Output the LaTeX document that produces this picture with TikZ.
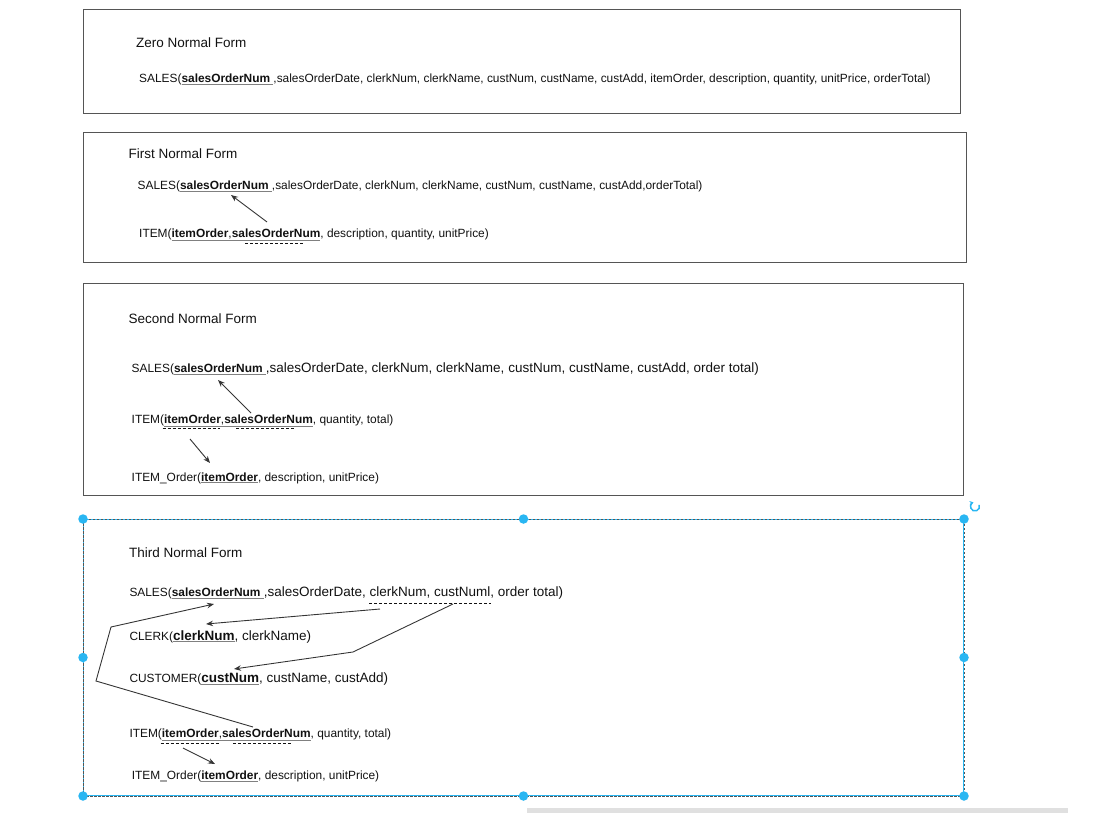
\documentclass[tikz,border=0pt]{standalone}
\usepackage{fontspec}
\setmainfont{Liberation Sans}
\usetikzlibrary{arrows.meta}
\definecolor{txt}{HTML}{111111}
\definecolor{hblue}{HTML}{29B6F2}
\definecolor{bord}{HTML}{555555}
\definecolor{ulc}{HTML}{808080}
\newcommand\szS{\fontsize{11.9}{13}\selectfont}
\newcommand\szL{\fontsize{13.5}{16}\selectfont}
\newcommand\szT{\fontsize{13.5}{16}\selectfont}
\newcommand\keyul[1]{\textcolor{ulc}{$\underline{\hbox{\color{txt}#1}}$}}
\tikzset{
  formbox/.style={draw=bord, line width=1pt, anchor=north west, inner sep=0pt},
  rel/.style={anchor=base west, inner sep=0pt, text=txt, font=\szS},
  ttl/.style={anchor=base west, inner sep=0pt, text=txt, font=\szT},
  fk/.style={draw=txt, line width=0.8pt, dash pattern=on 3pt off 2pt},
  link/.style={draw=txt!85, line width=0.9pt, -{Stealth[length=7pt,width=5.5pt]}},
  handle/.style={circle, fill=hblue, inner sep=0pt, minimum size=9.5pt},
}
\begin{document}
\begin{tikzpicture}[x=1pt,y=-1pt]
\useasboundingbox (0,0) rectangle (1115,813);
% ---------- Zero NF
\node[formbox, minimum width=877pt, minimum height=104pt] (b0) at (83,9) {};
\node[ttl] (t0) at (136,48) {Zero Normal Form};
\node[rel] (s0) at (139,83) {SALES(\keyul{\textbf{salesOrderNum }},salesOrderDate, clerkNum, clerkName, custNum, custName, custAdd, itemOrder, description, quantity, unitPrice, orderTotal)};
% ---------- First NF
\node[formbox, minimum width=883pt, minimum height=130pt] (b1) at (83,132) {};
\node[ttl] (t1) at (128.5,158.3) {First Normal Form};
\node[rel] (s1) at (137.5,189.3) {SALES(\keyul{\textbf{salesOrderNum }},salesOrderDate, clerkNum, clerkName, custNum, custName, custAdd,orderTotal)};
\node[rel] (i1) at (139,237.3) {ITEM(\keyul{\textbf{itemOrder},\textbf{salesOrderNum}}, description, quantity, unitPrice)};
\coordinate (f1a) at (245,243.3); \coordinate (f1b) at (304,243.3);
\draw[fk] (f1a) -- (f1b);
\coordinate (a1s) at (267,222); \coordinate (a1e) at (231,195);
\draw[link] (a1s) -- (a1e);
% ---------- Second NF
\node[formbox, minimum width=880pt, minimum height=212pt] (b2) at (83,283) {};
\node[ttl] (t2) at (128.5,323.3) {Second Normal Form};
\node[rel] (s2) at (131.5,372.7) {SALES(\keyul{\textbf{salesOrderNum }}{\szL,salesOrderDate, clerkNum, clerkName, custNum, custName, custAdd, order total)}};
\node[rel] (i2) at (131.5,423.3) {ITEM(\keyul{\textbf{itemOrder},\textbf{salesOrderNum}}, quantity, total)};
\node[rel] (o2) at (131.5,481) {ITEM\_Order(\keyul{\textbf{itemOrder}}, description, unitPrice)};
\coordinate (f2a) at (162.7,428); \coordinate (f2b) at (220,428);
\coordinate (f2c) at (236,428); \coordinate (f2d) at (295,428);
\draw[fk] (f2a) -- (f2b);
\draw[fk] (f2c) -- (f2d);
\coordinate (a2s) at (251,413); \coordinate (a2e) at (218,380);
\draw[link] (a2s) -- (a2e);
\coordinate (a3s) at (190,439); \coordinate (a3e) at (210,463);
\draw[link] (a3s) -- (a3e);
% ---------- Third NF (selected)
\node[formbox, draw=hblue, minimum width=880pt, minimum height=276pt] (b3) at (83,519) {};
\draw[draw=bord, line width=0.8pt, dash pattern=on 2.5pt off 1.5pt] (b3.north west) rectangle (b3.south east);
\node[ttl] (t3) at (129,557.3) {Third Normal Form};
\node[rel] (s3) at (129.3,596.7) {SALES(\keyul{\textbf{salesOrderNum }}{\szL,salesOrderDate, clerkNum, custNuml, order total)}};
\node[rel] (c3) at (129.3,640) {CLERK(\keyul{\szL\textbf{clerkNum}}{\szL, clerkName)}};
\node[rel] (u3) at (129.3,682.3) {CUSTOMER(\keyul{\szL\textbf{custNum}}{\szL, custName, custAdd)}};
\node[rel] (i3) at (129.3,737.3) {ITEM(\keyul{\textbf{itemOrder},\textbf{salesOrderNum}}, quantity, total)};
\node[rel] (o3) at (131.7,779.3) {ITEM\_Order(\keyul{\textbf{itemOrder}}, description, unitPrice)};
\coordinate (f3a) at (369,603.3); \coordinate (f3b) at (490.7,603.3);
\draw[fk] (f3a) -- (f3b);
\coordinate (f3c) at (160.7,743.3); \coordinate (f3d) at (220,743.3);
\coordinate (f3e) at (233.3,743.3); \coordinate (f3f) at (292.7,743.3);
\draw[fk] (f3c) -- (f3d);
\draw[fk] (f3e) -- (f3f);
% links
\coordinate (l1s) at (253,727); \coordinate (l1p) at (96,681); \coordinate (l1q) at (111,627); \coordinate (l1e) at (214,604);
\draw[link] (l1s) -- (l1p) -- (l1q) -- (l1e);
\coordinate (l2s) at (380,609); \coordinate (l2e) at (206,624);
\draw[link] (l2s) -- (l2e);
\coordinate (l3s) at (453,604); \coordinate (l3p) at (353,652); \coordinate (l3e) at (234,669);
\draw[link] (l3s) -- (l3p) -- (l3e);
\coordinate (l4s) at (183,748); \coordinate (l4e) at (215,764);
\draw[link] (l4s) -- (l4e);
% selection handles
\node[handle] (h1) at (b3.north west) {};
\node[handle] (h2) at (b3.north) {};
\node[handle] (h3) at (b3.north east) {};
\node[handle] (h4) at (b3.west) {};
\node[handle] (h5) at (b3.east) {};
\node[handle] (h6) at (b3.south west) {};
\node[handle] (h7) at (b3.south) {};
\node[handle] (h8) at (b3.south east) {};
% rotate icon
\coordinate (rot) at (975,506.5);
\draw[hblue, line width=1.5pt, -{Stealth[length=3.5pt,width=5pt]}] ([shift={(20:4.5pt)}]rot) arc[start angle=20, end angle=-250, radius=4.5pt];
% bottom scrollbar
\node[fill=black!12, inner sep=0pt, minimum width=541pt, minimum height=5pt, anchor=north west] (bar) at (527,808) {};
\end{tikzpicture}
\end{document}
